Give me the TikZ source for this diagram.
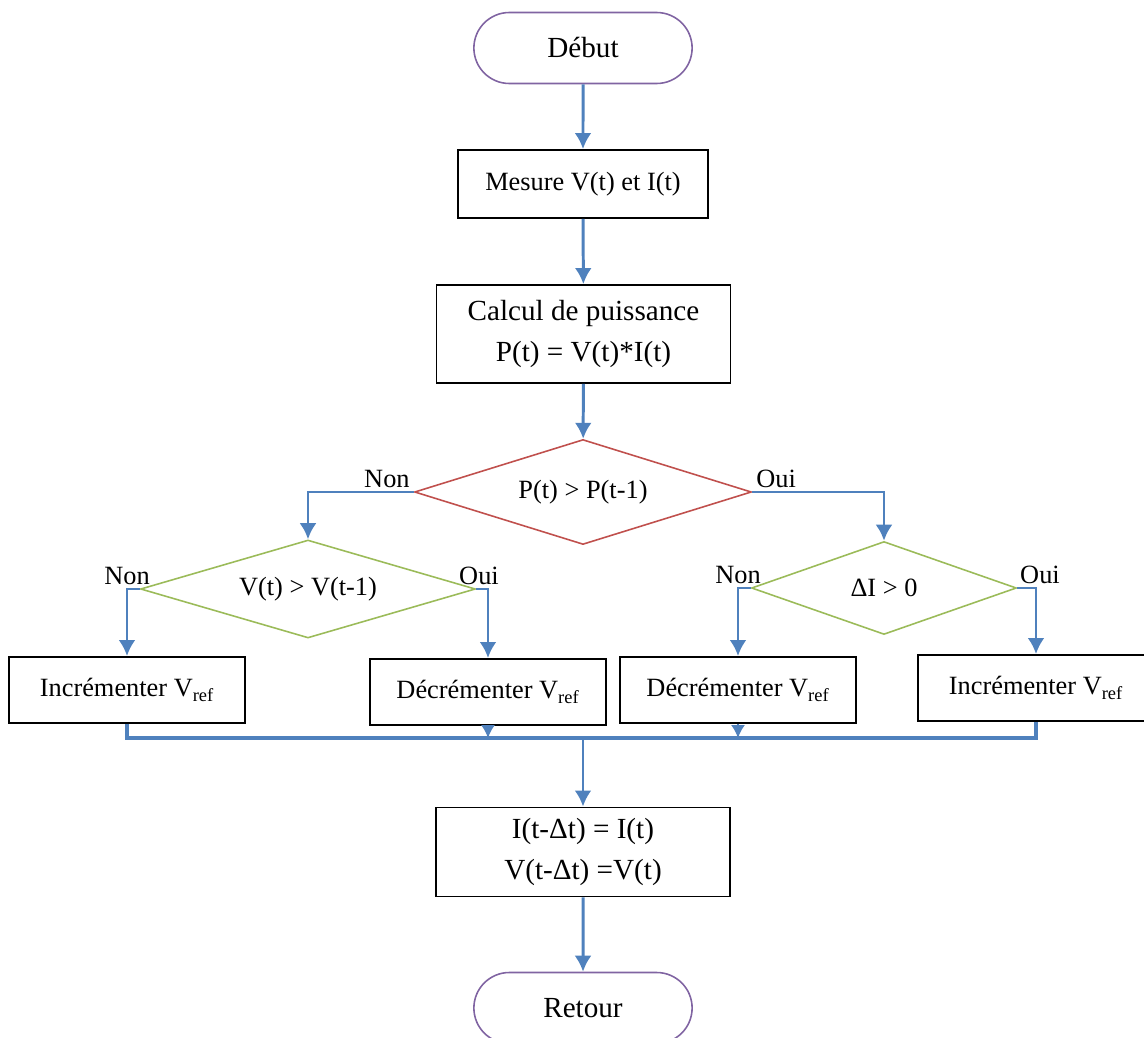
\documentclass[tikz,border=0pt]{standalone}
\usepackage{fontspec}
\setmainfont{Liberation Serif}
\usetikzlibrary{shapes.geometric,shapes.misc,arrows.meta}

\definecolor{flowblue}{HTML}{4F81BD}
\definecolor{termpurple}{HTML}{8064A2}
\definecolor{testred}{HTML}{C0504D}
\definecolor{testgreen}{HTML}{9BBB59}

\tikzset{
  big/.style={font=\fontsize{16.6}{23}\selectfont, align=center},
  terminal/.style={rounded rectangle, big, draw=termpurple, line width=0.9pt, minimum width=4.6cm, minimum height=1.42cm},
  process/.style={rectangle, draw=black, line width=1.1pt},
  action/.style={process, minimum width=4.72cm, minimum height=1.32cm},
  test/.style={diamond, line width=0.9pt, inner sep=0pt},
  flow/.style={draw=flowblue, line width=1.7pt, -{Latex[length=0.32cm, width=0.34cm]}},
  flowthin/.style={draw=flowblue, line width=0.9pt, -{Latex[length=0.26cm, width=0.28cm]}},
  bus/.style={draw=flowblue, line width=2.4pt},
  answer/.style={text=black, inner sep=1.5pt}
}

\begin{document}
\begin{tikzpicture}[x=0.02cm, y=-0.02cm, every node/.style={font=\fontsize{15}{18}\selectfont}]
  \clip[use as bounding box] (0,0) rectangle (1144,1038);

  \node[terminal] (debut) at (583,48) {Début};
  \node[process, minimum width=5cm, minimum height=1.36cm] (mesure) at (583,184) {Mesure V(t) et I(t)};
  \node[process, big, minimum width=5.88cm, minimum height=1.96cm] (calcul) at (583.5,334) {Calcul de puissance\\P(t) = V(t)*I(t)};

  % decisions
  \node[test, draw=testred, minimum width=6.74cm, minimum height=2.1cm, aspect=3.2] (testP) at (583,492) {P(t) > P(t-1)};
  \node[test, draw=testgreen, minimum width=6.7cm, minimum height=1.96cm, aspect=3.4] (testV) at (308,589) {V(t) > V(t-1)};
  \node[test, draw=testgreen, minimum width=5.3cm, minimum height=1.86cm, aspect=2.85] (testI) at (884,588) {ΔI > 0};

  % actions on V_ref
  \node[action] (incA) at (127,690) {Incrémenter V\textsubscript{ref}};
  \node[action] (decA) at (488,692) {Décrémenter V\textsubscript{ref}};
  \node[action] (decB) at (738,690) {Décrémenter V\textsubscript{ref}};
  \node[action] (incB) at (1036,688) {Incrémenter V\textsubscript{ref}};

  \coordinate (bus) at (583,738);
  \node[process, big, minimum width=5.88cm, minimum height=1.78cm] (memo) at (583,852) {I(t-Δt) = I(t)\\V(t-Δt) =V(t)};
  \node[terminal] (retour) at (583,1008) {Retour};

  \draw[flow] (debut) -- (mesure);
  \draw[flow] (mesure) -- (calcul);
  \draw[flow] (calcul) -- (testP);
  \draw[flow] (testP.west) node[answer, above left]{Non} -| (testV.north);
  \draw[flow] (testP.east) node[answer, above right]{Oui} -| (testI.north);
  \draw[flow] (testV.west) -| node[answer, above, pos=0.5]{Non} (incA.north);
  \draw[flow] (testV.east) -| node[answer, above, pos=0.5, xshift=-0.18cm]{Oui} (decA.north);
  \draw[flow] (testI.west) -| node[answer, above, pos=0.5]{Non} (decB.north);
  \draw[flow] (testI.east) -| node[answer, above, pos=0.5, xshift=0.08cm]{Oui} (incB.north);

  % collecting line
  \draw[bus] (incA.south) |- (bus) -| (incB.south);
  \draw[flowthin] (decA.south) -- (decA.south |- bus);
  \draw[flowthin] (decB.south) -- (decB.south |- bus);
  \draw[flow] (bus) -- (memo);
  \draw[flow] (memo) -- (retour);
\end{tikzpicture}
\end{document}
